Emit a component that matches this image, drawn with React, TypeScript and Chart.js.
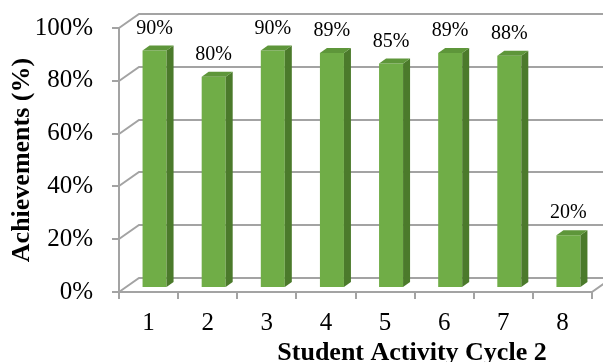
import React, { useEffect, useRef } from "react";
import { Chart, registerables } from "chart.js";

Chart.register(...registerables);

const categories = ["1", "2", "3", "4", "5", "6", "7", "8"];
const achievements = [90, 80, 90, 89, 85, 89, 88, 20];
const yTicks = [0, 20, 40, 60, 80, 100];
const yTitle = "Achievements (%)";
const xTitle = "Student Activity Cycle 2";

const SERIF = "'Liberation Serif', 'Times New Roman', serif";
const GRID = "#A3A3A3";
const FRONT = "#70AD47";
const SIDE = "#4B7A2B";
const TOP = "#5E963A";

// 3D geometry (depth offsets)
const WALL_DX = 20;
const WALL_DY = -14;
const BAR_SHIFT_X = 6;
const BAR_SHIFT_Y = -4;
const BAR_DX = 7;
const BAR_DY = -5;

const threeD = {
  id: "threeD",
  beforeDatasetsDraw(chart: any) {
    const { ctx, chartArea } = chart;
    const y = chart.scales.y;
    const { left, right, bottom } = chartArea;
    ctx.save();
    ctx.strokeStyle = GRID;
    ctx.lineWidth = 2;
    ctx.beginPath();
    for (const v of yTicks) {
      const py = Math.round(y.getPixelForValue(v));
      ctx.moveTo(left, py);
      ctx.lineTo(left + WALL_DX, py + WALL_DY);
      ctx.lineTo(right + WALL_DX + 40, py + WALL_DY);
    }
    ctx.moveTo(right, Math.round(bottom));
    ctx.lineTo(right + WALL_DX, Math.round(bottom) + WALL_DY);
    ctx.stroke();
    ctx.restore();

    ctx.save();
    ctx.translate(BAR_SHIFT_X, BAR_SHIFT_Y);
  },
  afterDatasetsDraw(chart: any) {
    const { ctx } = chart;
    const meta = chart.getDatasetMeta(0);
    meta.data.forEach((bar: any, i: number) => {
      const { x, y, base, width } = bar.getProps(["x", "y", "base", "width"], true);
      const l = x - width / 2;
      const r = x + width / 2;
      ctx.fillStyle = SIDE;
      ctx.beginPath();
      ctx.moveTo(r, y);
      ctx.lineTo(r + BAR_DX, y + BAR_DY);
      ctx.lineTo(r + BAR_DX, base + BAR_DY);
      ctx.lineTo(r, base);
      ctx.closePath();
      ctx.fill();
      ctx.fillStyle = TOP;
      ctx.beginPath();
      ctx.moveTo(l, y);
      ctx.lineTo(l + BAR_DX, y + BAR_DY);
      ctx.lineTo(r + BAR_DX, y + BAR_DY);
      ctx.lineTo(r, y);
      ctx.closePath();
      ctx.fill();
      ctx.fillStyle = "#000";
      ctx.font = `20px ${SERIF}`;
      ctx.textAlign = "center";
      ctx.textBaseline = "middle";
      ctx.fillText(achievements[i] + "%", x, y - 22);
    });
    ctx.restore();
  },
  afterDraw(chart: any) {
    const { ctx } = chart;
    ctx.save();
    ctx.fillStyle = "#000";
    ctx.font = `bold 26px ${SERIF}`;
    ctx.textAlign = "center";
    ctx.textBaseline = "alphabetic";
    ctx.fillText(xTitle, 412, 360);
    ctx.restore();
  },
};

export default function App() {
  const ref = useRef<HTMLCanvasElement>(null);
  useEffect(() => {
    if (!ref.current) return;
    const chart = new Chart(ref.current, {
      type: "bar",
      data: {
        labels: categories,
        datasets: [
          {
            data: achievements,
            backgroundColor: FRONT,
            borderWidth: 0,
            barPercentage: 0.406,
            categoryPercentage: 1,
            clip: false as any,
          },
        ],
      },
      options: {
        responsive: false,
        animation: false,
        layout: { padding: { top: 28, right: 11, left: 0, bottom: 0 } },
        plugins: { legend: { display: false }, tooltip: { enabled: false } },
        scales: {
          x: {
            afterFit: (s: any) => {
              s.height = 70;
              s.paddingLeft = 0;
              s.paddingRight = 0;
            },
            grid: {
              display: true,
              offset: true,
              drawOnChartArea: false,
              drawTicks: true,
              tickLength: 7,
              color: GRID,
              lineWidth: 2,
            },
            border: { display: true, color: GRID, width: 2 },
            ticks: {
              color: "#000",
              font: { family: SERIF, size: 25 },
              padding: 9,
              maxRotation: 0,
            },
          },
          y: {
            min: 0,
            max: 100,
            afterFit: (s: any) => {
              s.width = 119;
              s.paddingTop = 0;
              s.paddingBottom = 0;
            },
            grid: {
              display: true,
              drawOnChartArea: false,
              drawTicks: true,
              tickLength: 7,
              color: GRID,
              lineWidth: 2,
            },
            border: { display: true, color: GRID, width: 2 },
            ticks: {
              stepSize: 20,
              color: "#000",
              font: { family: SERIF, size: 25 },
              padding: 19,
              callback: (v: any) => v + "%",
            },
            title: {
              display: true,
              text: yTitle,
              color: "#000",
              font: { family: SERIF, size: 26, weight: "bold" },
              padding: { top: 7, bottom: 0 },
            },
          },
        },
      },
      plugins: [threeD],
    });
    return () => chart.destroy();
  }, []);
  return (
    <div style={{ position: "fixed", left: 0, top: 0, width: 603, height: 362, background: "#fff" }}>
      <canvas ref={ref} width={603} height={362} style={{ display: "block" }} />
    </div>
  );
}
